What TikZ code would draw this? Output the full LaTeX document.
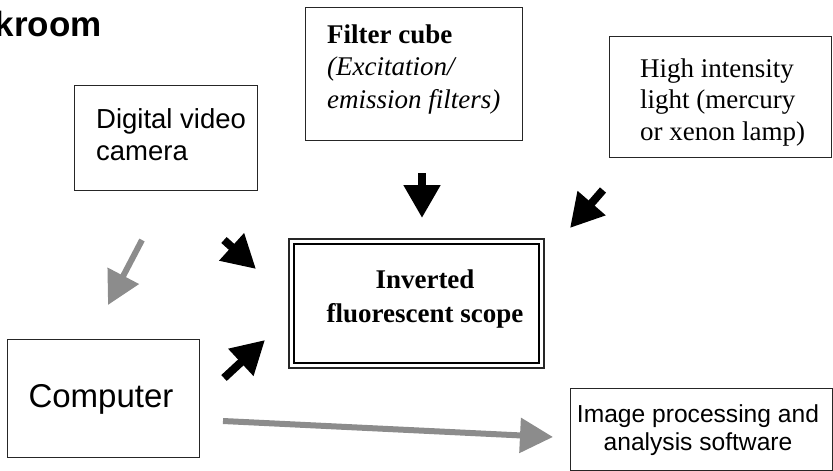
\documentclass[tikz,border=0pt]{standalone}
\usepackage{fontspec}
\setmainfont{Liberation Serif}
\setsansfont{Liberation Sans}
\usetikzlibrary{arrows.meta}
\definecolor{arrgray}{RGB}{140,140,140}
\tikzset{
  box/.style={draw=black!85, line width=1.3pt, inner sep=0pt, anchor=north west},
  sanstext/.style={font=\sffamily\fontsize{27.5}{32}\selectfont, inner sep=0pt, align=left},
  serftext/.style={font=\rmfamily\fontsize{27}{32}\selectfont, inner sep=0pt, align=left},
  blackarrow/.style={line width=8pt, draw=black, -{Triangle[length=33pt,width=35pt]}},
  grayarrow/.style={line width=6pt, draw=arrgray, -{Triangle[length=33pt,width=34pt]}},
}
\begin{document}
\begin{tikzpicture}[x=1pt,y=-1pt]
\useasboundingbox (0,0) rectangle (833,471);
% title fragment
\node[font=\sffamily\bfseries\fontsize{35}{40}\selectfont, inner sep=0pt, anchor=base east] (title) at (102,36) {kroom};
% camera
\node[box, minimum width=183pt, minimum height=105pt] (cam) at (74,85) {};
\node[sanstext, anchor=base west] (camtxt) at (96,160) {Digital video\\camera};
% filter cube
\node[box, minimum width=217pt, minimum height=133pt] (filt) at (305,7) {};
\node[serftext, anchor=base west, font=\rmfamily\fontsize{27}{32.5}\selectfont] (filttxt) at (327,108) {\textbf{Filter cube}\\\textit{(Excitation/}\\\textit{emission filters)}};
% light
\node[box, minimum width=222pt, minimum height=121pt] (light) at (609,36) {};
\node[serftext, anchor=base west, font=\rmfamily\fontsize{27}{31.5}\selectfont] (lighttxt) at (640,140) {High intensity\\light (mercury\\or xenon lamp)};
% scope
\node[box, line width=2.2pt, minimum width=255pt, minimum height=129pt] (scope) at (288,238) {};
\node[draw=black, line width=1.6pt, inner sep=0pt, anchor=north west, minimum width=245pt, minimum height=119pt] (scopein) at (293,243) {};
\node[serftext, align=center, anchor=base, font=\rmfamily\bfseries\fontsize{27}{34}\selectfont] (scopetxt) at (425,322) {Inverted\\fluorescent scope};
% computer
\node[box, minimum width=192pt, minimum height=118pt] (comp) at (7,339) {};
\node[font=\sffamily\fontsize{33}{38}\selectfont, inner sep=0pt, anchor=base] (comptxt) at (101,407) {Computer};
% image processing
\node[box, minimum width=262pt, minimum height=82pt] (img) at (570,388) {};
\node[sanstext, align=center, anchor=base, font=\sffamily\fontsize{24.6}{28}\selectfont] (imgtxt) at (698,450) {Image processing and\\analysis software};
% arrow end points
\coordinate (fa1) at (422,173); \coordinate (fa2) at (422,218);
\coordinate (la1) at (603,190); \coordinate (la2) at (570,228);
\coordinate (ca1) at (224,240); \coordinate (ca2) at (256,269);
\coordinate (pa1) at (224,378); \coordinate (pa2) at (265,340);
\coordinate (ga1) at (142,240); \coordinate (ga2) at (108,305);
\coordinate (ia1) at (223,421); \coordinate (ia2) at (553,437);
\draw[blackarrow] (fa1) -- (fa2);
\draw[blackarrow] (la1) -- (la2);
\draw[blackarrow] (ca1) -- (ca2);
\draw[blackarrow] (pa1) -- (pa2);
\draw[grayarrow] (ga1) -- (ga2);
\draw[grayarrow] (ia1) -- (ia2);
\end{tikzpicture}
\end{document}
